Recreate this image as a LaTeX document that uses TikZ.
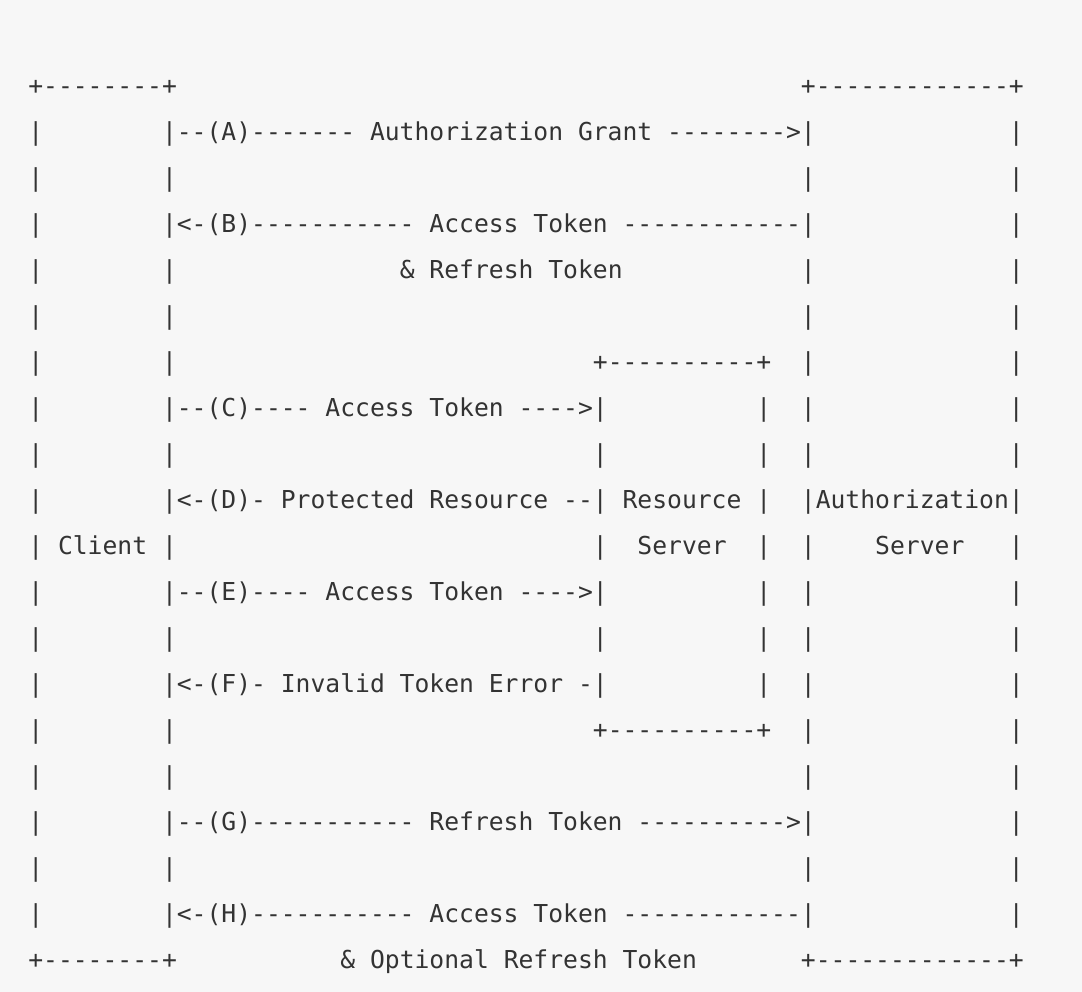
\documentclass[tikz,border=0pt]{standalone}
\usepackage{fontspec}
\setmonofont{DejaVu Sans Mono}
\usepackage{xcolor}
\usetikzlibrary{matrix}
\definecolor{artbg}{HTML}{F7F7F7}
\definecolor{artink}{HTML}{333333}
\newcommand\blank[1]{\hspace*{#1\fontdimen2\font}}

\begin{document}
\begin{tikzpicture}[x=1pt,y=1pt]
\fill[artbg] (0,0) rectangle (1082,-992);
\matrix (flow) [matrix of nodes,anchor=north west,inner sep=0pt,row sep=0pt,
  nodes={anchor=base west,inner sep=0pt,text height=30pt,text depth=16pt,text=artink,
  font=\ttfamily\fontsize{24.68pt}{46pt}\selectfont}] at (28.1,-63.8)
{ {+--------+\blank{42}+-------------+} \\
{|\blank{8}|--(A)------- Authorization Grant -------->|\blank{13}|} \\
{|\blank{8}|\blank{42}|\blank{13}|} \\
{|\blank{8}|<-(B)----------- Access Token ------------|\blank{13}|} \\
{|\blank{8}|\blank{15}\& Refresh Token\blank{12}|\blank{13}|} \\
{|\blank{8}|\blank{42}|\blank{13}|} \\
{|\blank{8}|\blank{28}+----------+\blank{2}|\blank{13}|} \\
{|\blank{8}|--(C)---- Access Token ---->|\blank{10}|\blank{2}|\blank{13}|} \\
{|\blank{8}|\blank{28}|\blank{10}|\blank{2}|\blank{13}|} \\
{|\blank{8}|<-(D)- Protected Resource --| Resource |\blank{2}|Authorization|} \\
{| Client |\blank{28}|\blank{2}Server\blank{2}|\blank{2}|\blank{4}Server\blank{3}|} \\
{|\blank{8}|--(E)---- Access Token ---->|\blank{10}|\blank{2}|\blank{13}|} \\
{|\blank{8}|\blank{28}|\blank{10}|\blank{2}|\blank{13}|} \\
{|\blank{8}|<-(F)- Invalid Token Error -|\blank{10}|\blank{2}|\blank{13}|} \\
{|\blank{8}|\blank{28}+----------+\blank{2}|\blank{13}|} \\
{|\blank{8}|\blank{42}|\blank{13}|} \\
{|\blank{8}|--(G)----------- Refresh Token ---------->|\blank{13}|} \\
{|\blank{8}|\blank{42}|\blank{13}|} \\
{|\blank{8}|<-(H)----------- Access Token ------------|\blank{13}|} \\
{+--------+\blank{11}\& Optional Refresh Token\blank{7}+-------------+} \\
};
\end{tikzpicture}
\end{document}
